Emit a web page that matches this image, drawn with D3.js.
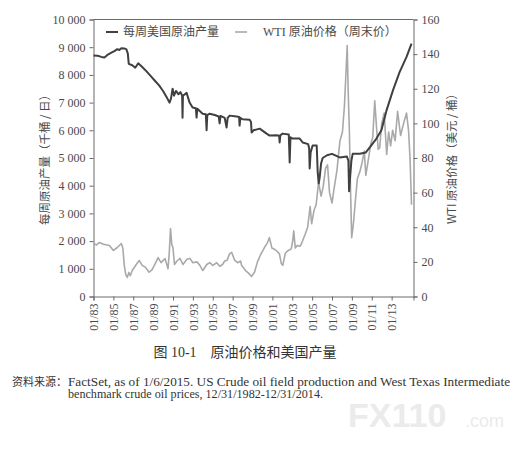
<!DOCTYPE html>
<html><head><meta charset="utf-8">
<script src="https://cdn.jsdelivr.net/npm/d3@7/dist/d3.min.js"></script>
<style>
body{margin:0;background:#fff;}
svg{display:block;}
</style></head>
<body>
<svg id="chart" width="520" height="457"></svg>
<script>
// ---- data (decimal year, value) ----
const productionSeries = [
 [1983.00,8700],[1983.40,8690],[1983.80,8650],[1984.10,8630],[1984.40,8720],[1984.80,8800],[1985.10,8860],
 [1985.40,8930],[1985.60,8900],[1985.80,8960],[1986.10,8950],[1986.30,8930],[1986.45,8780],[1986.55,8400],
 [1986.90,8350],[1987.20,8260],[1987.50,8420],[1987.80,8320],[1988.20,8180],[1988.70,7980],[1989.20,7780],
 [1989.60,7620],[1990.00,7420],[1990.35,7200],[1990.65,7000],[1990.80,7150],[1990.96,7500],[1991.10,7250],
 [1991.30,7420],[1991.55,7300],[1991.75,7380],[1991.92,7250],[1991.96,6450],[1992.00,7250],[1992.37,7350],
 [1992.67,7000],[1992.97,6820],[1993.30,6800],[1993.37,6460],[1993.45,6780],[1993.98,6600],[1994.30,6580],
 [1994.38,6000],[1994.45,6550],[1994.68,6600],[1995.20,6550],[1995.60,6500],[1995.69,6250],[1995.78,6520],
 [1996.20,6450],[1996.39,6100],[1996.50,6450],[1996.70,6530],[1997.40,6500],[1997.65,6480],[1997.70,6170],
 [1997.78,6450],[1998.00,6400],[1998.71,6380],[1998.85,6300],[1998.91,5920],[1999.10,6000],[1999.72,6060],
 [2000.42,5880],[2000.72,5810],[2001.43,5820],[2001.68,5800],[2001.73,5560],[2001.80,5820],[2002.03,5880],
 [2002.65,5850],[2002.74,4840],[2002.82,5750],[2003.04,5700],[2003.75,5700],[2004.05,5560],[2004.60,5500],
 [2004.70,5350],[2004.75,4620],[2004.85,5200],[2005.05,5450],[2005.46,5450],[2005.56,4500],[2005.66,4080],
 [2005.76,4300],[2005.90,4800],[2006.06,5000],[2006.50,5100],[2007.00,5150],[2007.77,5020],[2008.50,5050],
 [2008.65,4900],[2008.72,3800],[2008.80,4200],[2008.95,4900],[2009.08,5150],[2009.80,5150],[2010.40,5200],
 [2010.80,5380],[2011.47,5700],[2011.97,6000],[2012.47,6700],[2013.14,7450],[2013.80,8100],[2014.50,8650],
 [2015.00,9130]
];
const priceSeries = [
 [1983.00,30.6],[1983.30,29.8],[1983.60,31.2],[1984.00,30.2],[1984.60,29.5],[1985.00,26.6],[1985.40,28.3],
 [1985.80,30.6],[1985.95,28.0],[1986.10,18.0],[1986.25,12.5],[1986.40,11.0],[1986.55,13.9],[1986.70,12.0],
 [1986.90,15.0],[1987.30,18.5],[1987.60,20.8],[1987.90,18.0],[1988.20,17.0],[1988.60,14.0],[1988.90,15.5],
 [1989.30,20.0],[1989.50,22.5],[1989.80,19.6],[1990.20,21.9],[1990.50,16.0],[1990.62,25.0],[1990.75,39.3],
 [1990.88,30.0],[1991.00,28.0],[1991.15,18.5],[1991.40,20.5],[1991.70,22.0],[1992.00,18.5],[1992.40,21.5],
 [1992.70,22.0],[1993.00,19.5],[1993.40,20.0],[1993.70,18.0],[1994.00,15.0],[1994.40,18.5],[1994.70,19.6],
 [1995.00,18.0],[1995.40,19.5],[1995.70,17.5],[1996.00,18.5],[1996.20,20.5],[1996.45,21.0],[1996.70,24.8],
 [1996.90,25.5],[1997.20,21.0],[1997.50,19.5],[1997.80,20.5],[1997.90,18.0],[1998.30,15.0],[1998.60,13.5],
 [1998.90,11.5],[1999.20,14.0],[1999.50,20.0],[1999.80,24.0],[2000.20,28.3],[2000.50,31.0],[2000.70,34.0],
 [2000.95,28.0],[2001.30,27.0],[2001.70,24.8],[2001.90,19.0],[2002.05,18.0],[2002.30,25.0],[2002.60,26.6],
 [2002.90,27.5],[2003.05,32.3],[2003.15,38.0],[2003.30,28.0],[2003.50,29.5],[2003.80,29.0],[2004.05,32.3],
 [2004.30,36.0],[2004.55,40.0],[2004.80,52.0],[2004.95,42.0],[2005.20,50.0],[2005.40,53.0],[2005.65,66.0],
 [2005.90,58.0],[2006.10,63.0],[2006.35,74.0],[2006.55,76.0],[2006.75,60.0],[2007.00,54.0],[2007.20,62.0],
 [2007.50,73.0],[2007.80,90.0],[2008.05,95.0],[2008.25,110.0],[2008.45,135.0],[2008.53,145.0],[2008.62,120.0],
 [2008.75,95.0],[2008.85,65.0],[2008.98,34.0],[2009.15,42.0],[2009.35,55.0],[2009.55,68.0],[2009.80,72.0],
 [2010.05,78.0],[2010.25,84.0],[2010.40,70.0],[2010.60,77.0],[2010.90,88.0],[2011.10,92.0],[2011.30,113.0],
 [2011.50,96.0],[2011.65,85.0],[2011.80,86.0],[2012.00,100.0],[2012.25,106.0],[2012.50,82.0],[2012.70,95.0],
 [2012.90,87.0],[2013.10,96.0],[2013.35,90.0],[2013.60,107.0],[2013.90,93.0],[2014.25,101.0],[2014.50,106.0],
 [2014.70,96.0],[2014.85,80.0],[2015.00,53.0]
];
const leftTicks = [0,1000,2000,3000,4000,5000,6000,7000,8000,9000,10000];
const rightTicks = [0,20,40,60,80,100,120,140,160];
const xTickYears = [1983,1985,1987,1989,1991,1993,1995,1997,1999,2001,2003,2005,2007,2009,2011,2013];
const seriesNames = ["每周美国原油产量","WTI 原油价格（周末价）"];
const leftTitle = "每周原油产量（千桶 / 日）";
const rightTitle = "WTI 原油价格（美元 / 桶）";
const captionText = "图 10-1　原油价格和美国产量";
const sourceLabel = "资料来源：";
const sourceLine1 = "FactSet, as of 1/6/2015. US Crude oil field production and West Texas Intermediate";
const sourceLine2 = "benchmark crude oil prices, 12/31/1982-12/31/2014.";

// ---- layout ----
const svg = d3.select("#chart");
const L = 93.5, R = 413.5, T = 19.5, B = 296.5;
const serif = "'Liberation Serif','Times New Roman','Noto Sans CJK SC',serif";
const sans = "'Noto Sans CJK SC','DejaVu Sans',sans-serif";
const axisCol = "#6a6a6a", textCol = "#4a4a4a";

const x = d3.scaleLinear().domain([1983, 2015.2]).range([L, R]);
const yL = d3.scaleLinear().domain([0, 10000]).range([B, T]);
const yR = d3.scaleLinear().domain([0, 160]).range([B, T]);

// top frame line
svg.append("line").attr("x1", L).attr("x2", R).attr("y1", T).attr("y2", T)
  .attr("stroke", axisCol).attr("stroke-width", 1);

const fmt = d => d3.format(",")(d).replace(/,/g, " ");
const gl = svg.append("g").attr("transform", `translate(${L},0)`)
  .call(d3.axisLeft(yL).tickValues(leftTicks).tickFormat(fmt).tickSize(4).tickPadding(4));
const gr = svg.append("g").attr("transform", `translate(${R},0)`)
  .call(d3.axisRight(yR).tickValues(rightTicks).tickSize(4).tickPadding(4));
const gx = svg.append("g").attr("transform", `translate(0,${B})`)
  .call(d3.axisBottom(x).tickValues(xTickYears)
    .tickFormat(d => "01/" + String(d % 100).padStart(2, "0")).tickSize(4));
gx.selectAll("text").attr("transform", "rotate(-90)").attr("x", -7).attr("y", 0)
  .attr("dy", "0.35em").style("text-anchor", "end");

[gl, gr, gx].forEach(g => {
  g.selectAll("path.domain").attr("stroke", axisCol);
  g.selectAll(".tick line").attr("stroke", axisCol);
  g.selectAll("text").attr("fill", textCol).style("font-family", serif).style("font-size", "12px");
});

// lines
const lineL = d3.line().x(d => x(d[0])).y(d => yL(d[1]));
const lineR = d3.line().x(d => x(d[0])).y(d => yR(d[1]));
svg.append("path").datum(priceSeries).attr("d", lineR).attr("fill", "none")
  .attr("stroke", "#a9a9a9").attr("stroke-width", 1.6).attr("stroke-linejoin", "round");
svg.append("path").datum(productionSeries).attr("d", lineL).attr("fill", "none")
  .attr("stroke", "#404040").attr("stroke-width", 2).attr("stroke-linejoin", "round");

// legend
const leg = svg.append("g");
leg.append("line").attr("x1", 106).attr("x2", 118).attr("y1", 32).attr("y2", 32)
  .attr("stroke", "#404040").attr("stroke-width", 2);
leg.append("text").attr("x", 123).attr("y", 36).text(seriesNames[0])
  .style("font-family", serif).style("font-size", "12px").attr("fill", textCol);
leg.append("line").attr("x1", 235).attr("x2", 247).attr("y1", 32).attr("y2", 32)
  .attr("stroke", "#a9a9a9").attr("stroke-width", 1.6);
leg.append("text").attr("x", 263).attr("y", 36).text(seriesNames[1])
  .style("font-family", serif).style("font-size", "12px").attr("fill", textCol);

// axis titles
svg.append("text").attr("transform", "translate(45,157) rotate(-90)")
  .attr("text-anchor", "middle").attr("dy", "0.35em").text(leftTitle)
  .style("font-family", sans).style("font-size", "11.5px").attr("fill", textCol);
svg.append("text").attr("transform", "translate(452,156) rotate(-90)")
  .attr("text-anchor", "middle").attr("dy", "0.35em").text(rightTitle)
  .style("font-family", sans).style("font-size", "11.5px").attr("fill", textCol);

// caption + source
svg.append("text").attr("x", 245).attr("y", 357).attr("text-anchor", "middle").text(captionText)
  .style("font-family", serif).style("font-size", "14px").attr("fill", "#333");
svg.append("text").attr("x", 12).attr("y", 386).text(sourceLabel)
  .style("font-family", serif).style("font-size", "11px").attr("fill", "#333");
svg.append("text").attr("x", 68).attr("y", 386).text(sourceLine1)
  .attr("textLength", 442).attr("lengthAdjust", "spacingAndGlyphs")
  .style("font-family", serif).style("font-size", "11.5px").attr("fill", "#333");
svg.append("text").attr("x", 68).attr("y", 398).text(sourceLine2)
  .attr("textLength", 255).attr("lengthAdjust", "spacingAndGlyphs")
  .style("font-family", serif).style("font-size", "11.5px").attr("fill", "#333");

// watermark
svg.append("text").attr("x", 348).attr("y", 427).text("FX110")
  .style("font-family", "'Liberation Sans',Arial,sans-serif").style("font-weight", "bold")
  .style("font-size", "34px").attr("fill", "#ebebeb");
svg.append("text").attr("x", 465).attr("y", 427).text(".com")
  .style("font-family", "'Liberation Sans',Arial,sans-serif")
  .style("font-size", "18px").attr("fill", "#ebebeb");
</script>
</body></html>
